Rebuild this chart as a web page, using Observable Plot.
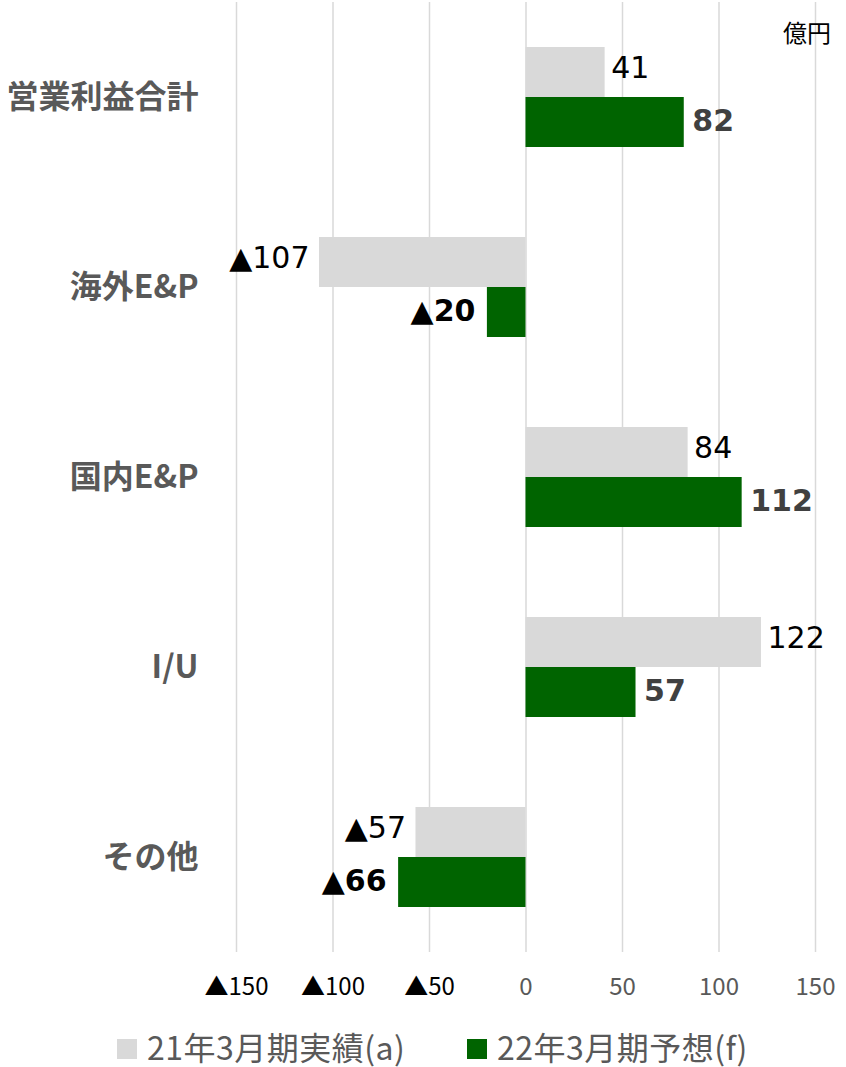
<!DOCTYPE html>
<html>
<head>
<meta charset="utf-8">
<script src="https://cdn.jsdelivr.net/npm/d3@7"></script>
<script src="https://cdn.jsdelivr.net/npm/@observablehq/plot@0.6"></script>
<style>
  html, body { margin: 0; padding: 0; background: #fff; }
  #chart { width: 846px; position: relative; }
  .unit { position: absolute; left: 783px; top: 14px; font: 24px "Noto Sans CJK JP", sans-serif; color: #000; }
  .legend { display: flex; align-items: center; height: 47px; padding-left: 117px; font: 32px "Noto Sans CJK JP", sans-serif; color: #595959; letter-spacing: 0.5px; }
  .legend .item { display: flex; align-items: center; }
  .legend .item:first-child { width: 350px; }
  .legend .sw { width: 20px; height: 20px; margin-right: 10px; margin-top: 6px; }
</style>
</head>
<body>
<div id="chart"></div>
<script>
const categories = ["営業利益合計", "海外E&P", "国内E&P", "I/U", "その他"];
const seriesNames = ["21年3月期実績(a)", "22年3月期予想(f)"];
const actual21 = [41, -107, 84, 122, -57];
const forecast22 = [82, -20, 112, 57, -66];
const xTicks = [-150, -100, -50, 0, 50, 100, 150];
const colors = ["#d9d9d9", "#006400"];
const unitLabel = "億円";

const fmt = v => v < 0 ? "▲" + (-v) : String(v);

const data = [];
categories.forEach((c, i) => {
  data.push({cat: c, series: seriesNames[0], value: actual21[i]});
  data.push({cat: c, series: seriesNames[1], value: forecast22[i]});
});
const light = data.filter(d => d.series === seriesNames[0]);
const dark = data.filter(d => d.series === seriesNames[1]);

const plot = Plot.plot({
  width: 846,
  height: 1022,
  marginLeft: 236,
  marginRight: 31,
  marginTop: 2,
  marginBottom: 70,
  x: {domain: [-150, 150], axis: null},
  y: {domain: seriesNames, paddingInner: 0, paddingOuter: 0.9, axis: null},
  fy: {domain: categories, padding: 0, axis: null},
  color: {domain: seriesNames, range: colors},
  style: {fontFamily: "DejaVu Sans, sans-serif", background: "#fff"},
  marks: [
    Plot.ruleX(xTicks, {stroke: "#d9d9d9", strokeWidth: 1.5}),
    Plot.barX(data, {x: "value", y: "series", fy: "cat", fill: "series"}),
    Plot.text(light.filter(d => d.value >= 0), {
      x: "value", y: "series", fy: "cat", text: d => fmt(d.value),
      textAnchor: "start", dx: 6, dy: -4, fontSize: 30, fill: "#000", fontFamily: "DejaVu Sans"
    }),
    Plot.text(light.filter(d => d.value < 0), {
      x: "value", y: "series", fy: "cat", text: d => fmt(d.value),
      textAnchor: "end", dx: -10, dy: -4, fontSize: 30, fill: "#000", fontFamily: "DejaVu Sans"
    }),
    Plot.text(dark.filter(d => d.value >= 0), {
      x: "value", y: "series", fy: "cat", text: d => fmt(d.value),
      textAnchor: "start", dx: 8, dy: -1, fontSize: 30, fontWeight: "bold", fill: "#404040", fontFamily: "DejaVu Sans"
    }),
    Plot.text(dark.filter(d => d.value < 0), {
      x: "value", y: "series", fy: "cat", text: d => fmt(d.value),
      textAnchor: "end", dx: -12, dy: -1, fontSize: 30, fontWeight: "bold", fill: "#000", fontFamily: "DejaVu Sans"
    }),
    Plot.text(categories, {
      fy: d => d, text: d => d, frameAnchor: "left", textAnchor: "end", dx: -38,
      fontSize: 32, fontWeight: "bold", fill: "#595959", fontFamily: "Noto Sans CJK JP"
    }),
    Plot.axisX(xTicks.filter(t => t < 0), {
      tickSize: 0, tickPadding: 25, tickFormat: fmt, fontSize: 24, color: "#000",
      fontFamily: "Noto Sans CJK JP", label: null
    }),
    Plot.axisX(xTicks.filter(t => t >= 0), {
      tickSize: 0, tickPadding: 25, tickFormat: fmt, fontSize: 24, color: "#595959",
      fontFamily: "Noto Sans CJK JP", label: null
    })
  ]
});

const chart = document.getElementById("chart");
chart.appendChild(plot);
const unit = document.createElement("div");
unit.className = "unit";
unit.textContent = unitLabel;
chart.appendChild(unit);

const legend = document.createElement("div");
legend.className = "legend";
seriesNames.forEach((s, i) => {
  const item = document.createElement("div");
  item.className = "item";
  const sw = document.createElement("span");
  sw.className = "sw";
  sw.style.background = colors[i];
  const t = document.createElement("span");
  t.textContent = s;
  item.appendChild(sw);
  item.appendChild(t);
  legend.appendChild(item);
});
document.body.appendChild(legend);
</script>
</body>
</html>
